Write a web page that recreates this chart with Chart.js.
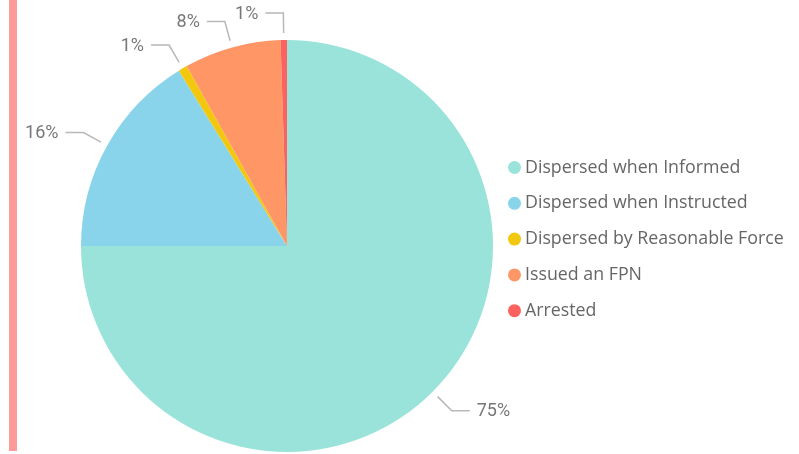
<!DOCTYPE html>
<html>
<head>
<meta charset="utf-8">
<script src="https://cdn.jsdelivr.net/npm/chart.js@4"></script>
<style>
    html, body { margin: 0; padding: 0; background: #fff; }
    #wrap { position: relative; width: 799px; height: 454px; }
    #bar { position: absolute; left: 9px; top: 0; width: 8px; height: 451px; background: #ff9a9a; }
</style>
</head>
<body>
<div id="wrap">
    <div id="bar"></div>
    <canvas id="pieChart" width="799" height="454"></canvas>
</div>
<script>
// Outcome categories and their share (%)
const categories = ['Dispersed when Informed', 'Dispersed when Instructed', 'Dispersed by Reasonable Force', 'Issued an FPN', 'Arrested'];
const shares = [75.0, 16.2, 0.7, 7.6, 0.5];
const sliceLabels = ['75%', '16%', '1%', '8%', '1%'];
const colors = ['#99e3da', '#8ad4eb', '#f2c80f', '#fe9666', '#fd625e'];

// Leader-line labels outside each slice
const leaderLabels = {
    id: 'leaderLabels',
    afterDatasetsDraw(chart) {
        const ctx = chart.ctx;
        const arcs = chart.getDatasetMeta(0).data;
        ctx.save();
        ctx.font = '18px Roboto';
        ctx.textBaseline = 'middle';
        arcs.forEach((arc, i) => {
            const mid = (arc.startAngle + arc.endAngle) / 2;
            const cos = Math.cos(mid), sin = Math.sin(mid);
            const r = arc.outerRadius;
            const x1 = arc.x + cos * (r + 7), y1 = arc.y + sin * (r + 7);
            const x2 = arc.x + cos * (r + 27), y2 = arc.y + sin * (r + 27);
            const dir = cos >= 0 ? 1 : -1;
            const x3 = x2 + dir * 18;
            ctx.strokeStyle = '#b8b8b8';
            ctx.lineWidth = 1.5;
            ctx.beginPath();
            ctx.moveTo(x1, y1);
            ctx.lineTo(x2, y2);
            ctx.lineTo(x3, y2);
            ctx.stroke();
            ctx.fillStyle = '#777';
            ctx.textAlign = dir > 0 ? 'left' : 'right';
            ctx.fillText(sliceLabels[i], x3 + dir * 7, y2 + 1);
        });
        ctx.restore();
    }
};

// Legend on the right with round markers
const sideLegend = {
    id: 'sideLegend',
    afterDraw(chart) {
        const ctx = chart.ctx;
        ctx.save();
        ctx.font = '17.8px "Open Sans"';
        ctx.textBaseline = 'middle';
        ctx.textAlign = 'left';
        categories.forEach((name, i) => {
            const y = 167.5 + i * 35.8;
            ctx.fillStyle = colors[i];
            ctx.beginPath();
            ctx.arc(514.5, y, 6.5, 0, Math.PI * 2);
            ctx.fill();
            ctx.fillStyle = '#666';
            ctx.fillText(name, 525, y);
        });
        ctx.restore();
    }
};

new Chart(document.getElementById('pieChart').getContext('2d'), {
    type: 'pie',
    data: {
        labels: categories,
        datasets: [{
            data: shares,
            backgroundColor: colors,
            borderWidth: 0,
            hoverOffset: 0,
            offset: 0
        }]
    },
    options: {
        responsive: false,
        animation: false,
        events: [],
        layout: { padding: { left: 81, top: 40, bottom: 2, right: 306 } },
        plugins: {
            legend: { display: false },
            tooltip: { enabled: false }
        }
    },
    plugins: [leaderLabels, sideLegend]
});
</script>
</body>
</html>
